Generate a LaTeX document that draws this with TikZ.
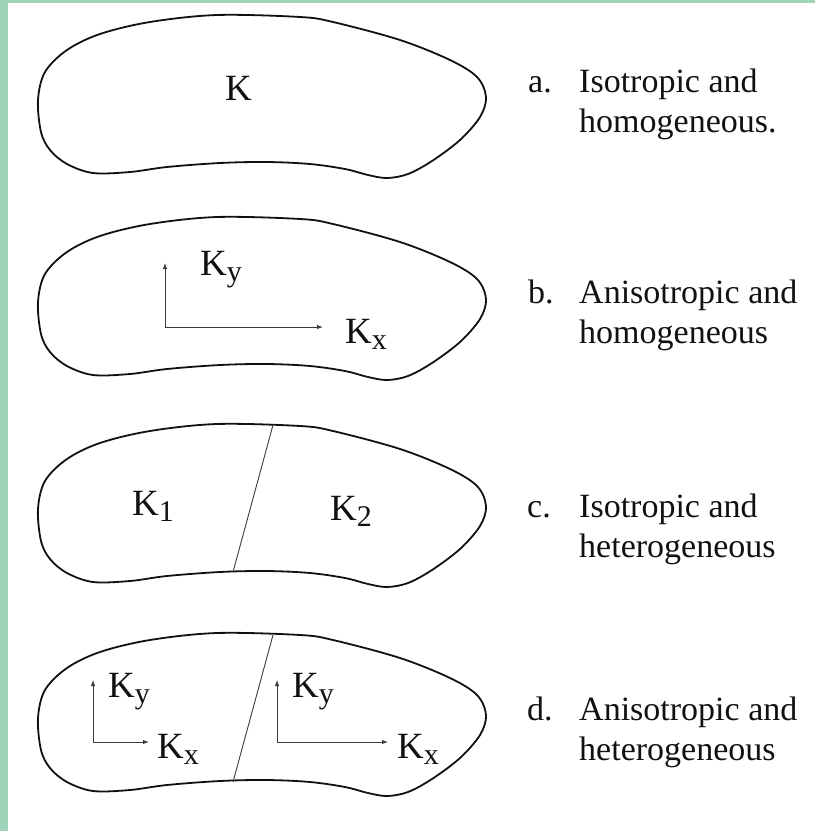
\documentclass[tikz,border=0pt]{standalone}
\usepackage{fontspec}
\setmainfont{Liberation Serif}
\usepackage{tikz}
\usetikzlibrary{arrows.meta,positioning}
\definecolor{mintbg}{HTML}{9FD3BA}
\definecolor{inkblack}{HTML}{111111}
\definecolor{axisgray}{HTML}{3A3A3A}
\tikzset{
  blobline/.style={draw=inkblack,line width=1.8pt,smooth cycle,tension=0.55},
  divline/.style={draw=axisgray,line width=0.9pt},
  kaxis/.style={-{Latex[length=6pt,width=4.5pt]},draw=axisgray,line width=1pt},
  klabel/.style={inner sep=0pt,anchor=base west,font=\fontsize{37}{40}\selectfont,text=inkblack},
  caption/.style={inner sep=0pt,anchor=base west,font=\fontsize{34}{40}\selectfont,text=inkblack},
}
\newcommand\blobcurve{plot coordinates {(38,100) (41,132) (50,150) (67,164) (93,173) (130,172)
  (167,167) (220,163) (267,162) (310,164) (345,169) (368,175) (387,178) (408,174) (432,161)
  (460,140) (480,117) (486,97) (477,77) (450,60) (400,40) (333,22) (300,17) (217,15) (150,22)
  (100,34) (67,50) (45,72)}}
\newcommand\ksub[1]{\raisebox{-6pt}{\fontsize{30}{30}\selectfont #1}}

\begin{document}
\begin{tikzpicture}[x=1pt,y=-1pt]
    \useasboundingbox (0,0) rectangle (815,831);
    \fill[mintbg] (0,0) rectangle (815,831);
    \fill[white] (8,3) rectangle (815,831);
    % the four regions
    \draw[blobline] \blobcurve;
    \begin{scope}[shift={(0,202)}]
      \draw[blobline] \blobcurve;
    \end{scope}
    \begin{scope}[shift={(0,409)}]
      \draw[blobline] \blobcurve;
      \coordinate (cdivtop) at (273,16);
      \coordinate (cdivbot) at (233,163);
    \end{scope}
    \begin{scope}[shift={(0,618)}]
      \draw[blobline] \blobcurve;
      \coordinate (ddivtop) at (273,17);
      \coordinate (ddivbot) at (233,164);
    \end{scope}
    \draw[divline] (cdivtop)--(cdivbot);
    \draw[divline] (ddivtop)--(ddivbot);
    % a
    \node[klabel] (ka) at (225,100) {K};
    % b
    \coordinate (borig) at (165,327);
    \coordinate (bytip) at (165,263);
    \coordinate (bxtip) at (323,327);
    \draw[kaxis] (borig)--(bytip);
    \draw[kaxis] (borig)--(bxtip);
    \node[klabel] (kyb) at (200,275) {K\ksub{y}};
    \node[klabel] (kxb) at (345,343) {K\ksub{x}};
    % c
    \node[klabel] (k1) at (132,515) {K\ksub{1}};
    \node[klabel] (k2) at (330,520) {K\ksub{2}};
    % d
    \coordinate (dlorig) at (93,742);
    \coordinate (dlytip) at (93,680);
    \coordinate (dlxtip) at (149,742);
    \coordinate (drorig) at (277,742);
    \coordinate (drytip) at (277,680);
    \coordinate (drxtip) at (388,742);
    \draw[kaxis] (dlorig)--(dlytip);
    \draw[kaxis] (dlorig)--(dlxtip);
    \draw[kaxis] (drorig)--(drytip);
    \draw[kaxis] (drorig)--(drxtip);
    \node[klabel] (kydl) at (108,697) {K\ksub{y}};
    \node[klabel] (kxdl) at (157,758) {K\ksub{x}};
    \node[klabel] (kydr) at (292,697) {K\ksub{y}};
    \node[klabel] (kxdr) at (397,758) {K\ksub{x}};
    % captions
    \node[caption] (capa) at (528,92) {a.};
    \node[caption] (capa1) at (579,92) {Isotropic and};
    \node[caption] (capa2) at ([yshift=-40pt]capa1.base west) {homogeneous.};
    \node[caption] (capb) at (528,303) {b.};
    \node[caption] (capb1) at (579,303) {Anisotropic and};
    \node[caption] (capb2) at ([yshift=-40pt]capb1.base west) {homogeneous};
    \node[caption] (capc) at (527,517) {c.};
    \node[caption] (capc1) at (579,517) {Isotropic and};
    \node[caption] (capc2) at ([yshift=-40pt]capc1.base west) {heterogeneous};
    \node[caption] (capd) at (527,720) {d.};
    \node[caption] (capd1) at (579,720) {Anisotropic and};
    \node[caption] (capd2) at ([yshift=-40pt]capd1.base west) {heterogeneous};
  \end{tikzpicture}
\end{document}
